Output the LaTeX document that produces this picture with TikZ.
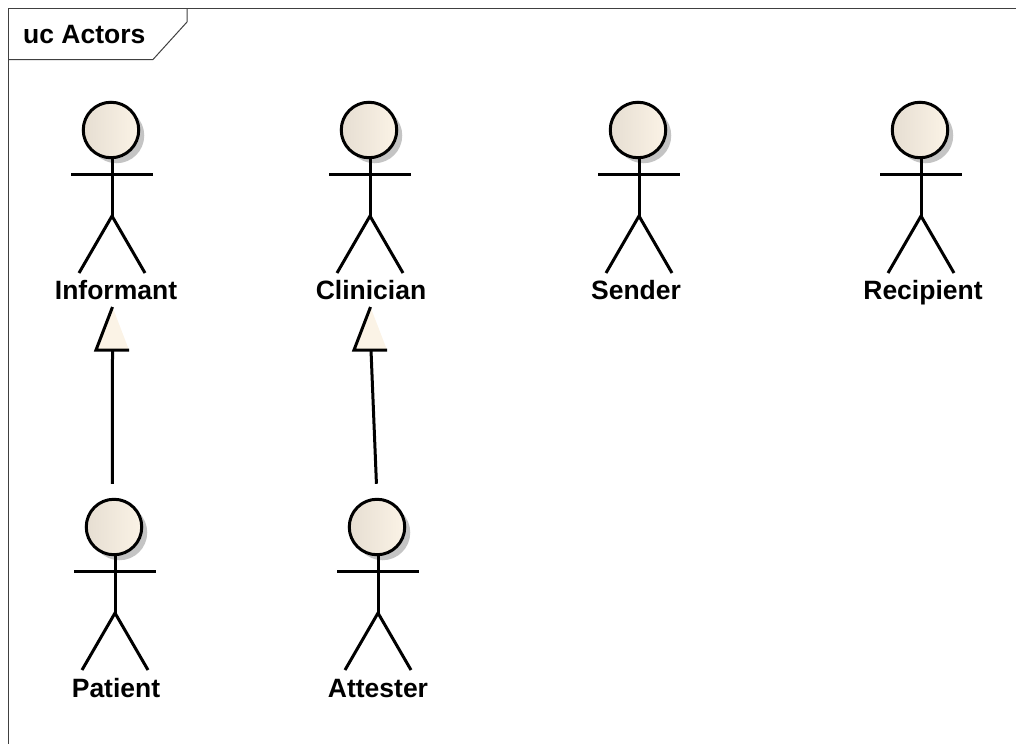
\documentclass[tikz,border=0pt]{standalone}
\usepackage{fontspec}
\setmainfont{Liberation Sans}
\usepackage{pgf,tikz}
\usepackage{tkz-euclide}
\usepackage{xcolor}
\usetikzlibrary{arrows, calc, shadows}

\definecolor{headlight}{HTML}{FBF3E6}
\definecolor{headdark}{HTML}{E6DED2}
\definecolor{shadowgray}{HTML}{C4C4C4}
\definecolor{framegray}{HTML}{404040}

\tikzset{
    framestyle/.style={draw=framegray, line width=1pt},
    actorhead/.style={circle, draw=black, line width=3pt, minimum size=55.5pt, inner sep=0pt,
        left color=headdark, middle color=headlight, right color=headlight,
        drop shadow={shadow xshift=5.5pt, shadow yshift=-5.5pt, fill=shadowgray, opacity=1}},
    actorline/.style={draw=black, line width=3pt},
    labelstyle/.style={anchor=base, inner sep=0pt, font=\fontsize{26.5}{30}\selectfont\bfseries},
}

\begin{document}
\begin{tikzpicture}[x=1pt, y=-1pt]
    \useasboundingbox (0,0) rectangle (1016,744);

    \tkzDefPoint(1016,8.5){frame_1}
    \tkzDefPoint(8.5,8.5){frame_2}
    \tkzDefPoint(8.5,744){frame_3}
    \tkzDefPoint(8.5,59.5){tab_1}
    \tkzDefPoint(153,59.5){tab_2}
    \tkzDefPoint(187,22){tab_3}
    \tkzDefPoint(187,8.5){tab_4}
    \draw[framestyle] (frame_1) -- (frame_2) -- (frame_3);
    \draw[framestyle] (tab_1) -- (tab_2) -- (tab_3) -- (tab_4);
    \node[labelstyle, anchor=base west] (title) at (23,43) {uc Actors};

    % head position, then label position
    \foreach \name/\x/\y/\lx/\ly/\txt in {
        informant/112/130/116/299/Informant,
        clinician/370/130/371/299/Clinician,
        sender/639/130/636/299/Sender,
        recipient/921/130/923/299/Recipient,
        patient/115/527/116/697/Patient,
        attester/378/527/378/697/Attester}
    {
        \node[actorhead] (head_\name) at (\x-1,\y) {};
        \draw[actorline] (\x-41,\y+44) -- (\x+41,\y+44);
        \draw[actorline] (\x,\y+28) -- (\x,\y+86);
        \draw[actorline] (\x-33,\y+143) -- (\x,\y+86) -- (\x+33,\y+143);
        \node[labelstyle] (\name) at (\lx,\ly) {\txt};
    }

    \tkzDefPoint(112.5,307){tip_1}
    \tkzDefPoint(96,350){left_1}
    \tkzDefPoint(129,350){right_1}
    \tkzDefPoint(112.5,350){base_1}

    \tkzDefPoint(370.5,307){tip_2}
    \tkzDefPoint(354,350){left_2}
    \tkzDefPoint(387,350){right_2}
    \tkzDefPoint(371,350){base_2}

    \fill[headlight] (tip_1) -- (left_1) -- (right_1) -- cycle;
    \fill[headlight] (tip_2) -- (left_2) -- (right_2) -- cycle;
    \draw[actorline] (tip_1) -- (left_1) -- (right_1);
    \draw[actorline] (tip_2) -- (left_2) -- (right_2);

    \draw[actorline, shorten <=14pt] (head_patient.93) -- (base_1);
    \draw[actorline, shorten <=14pt] (head_attester.north) -- (base_2);
\end{tikzpicture}
\end{document}
